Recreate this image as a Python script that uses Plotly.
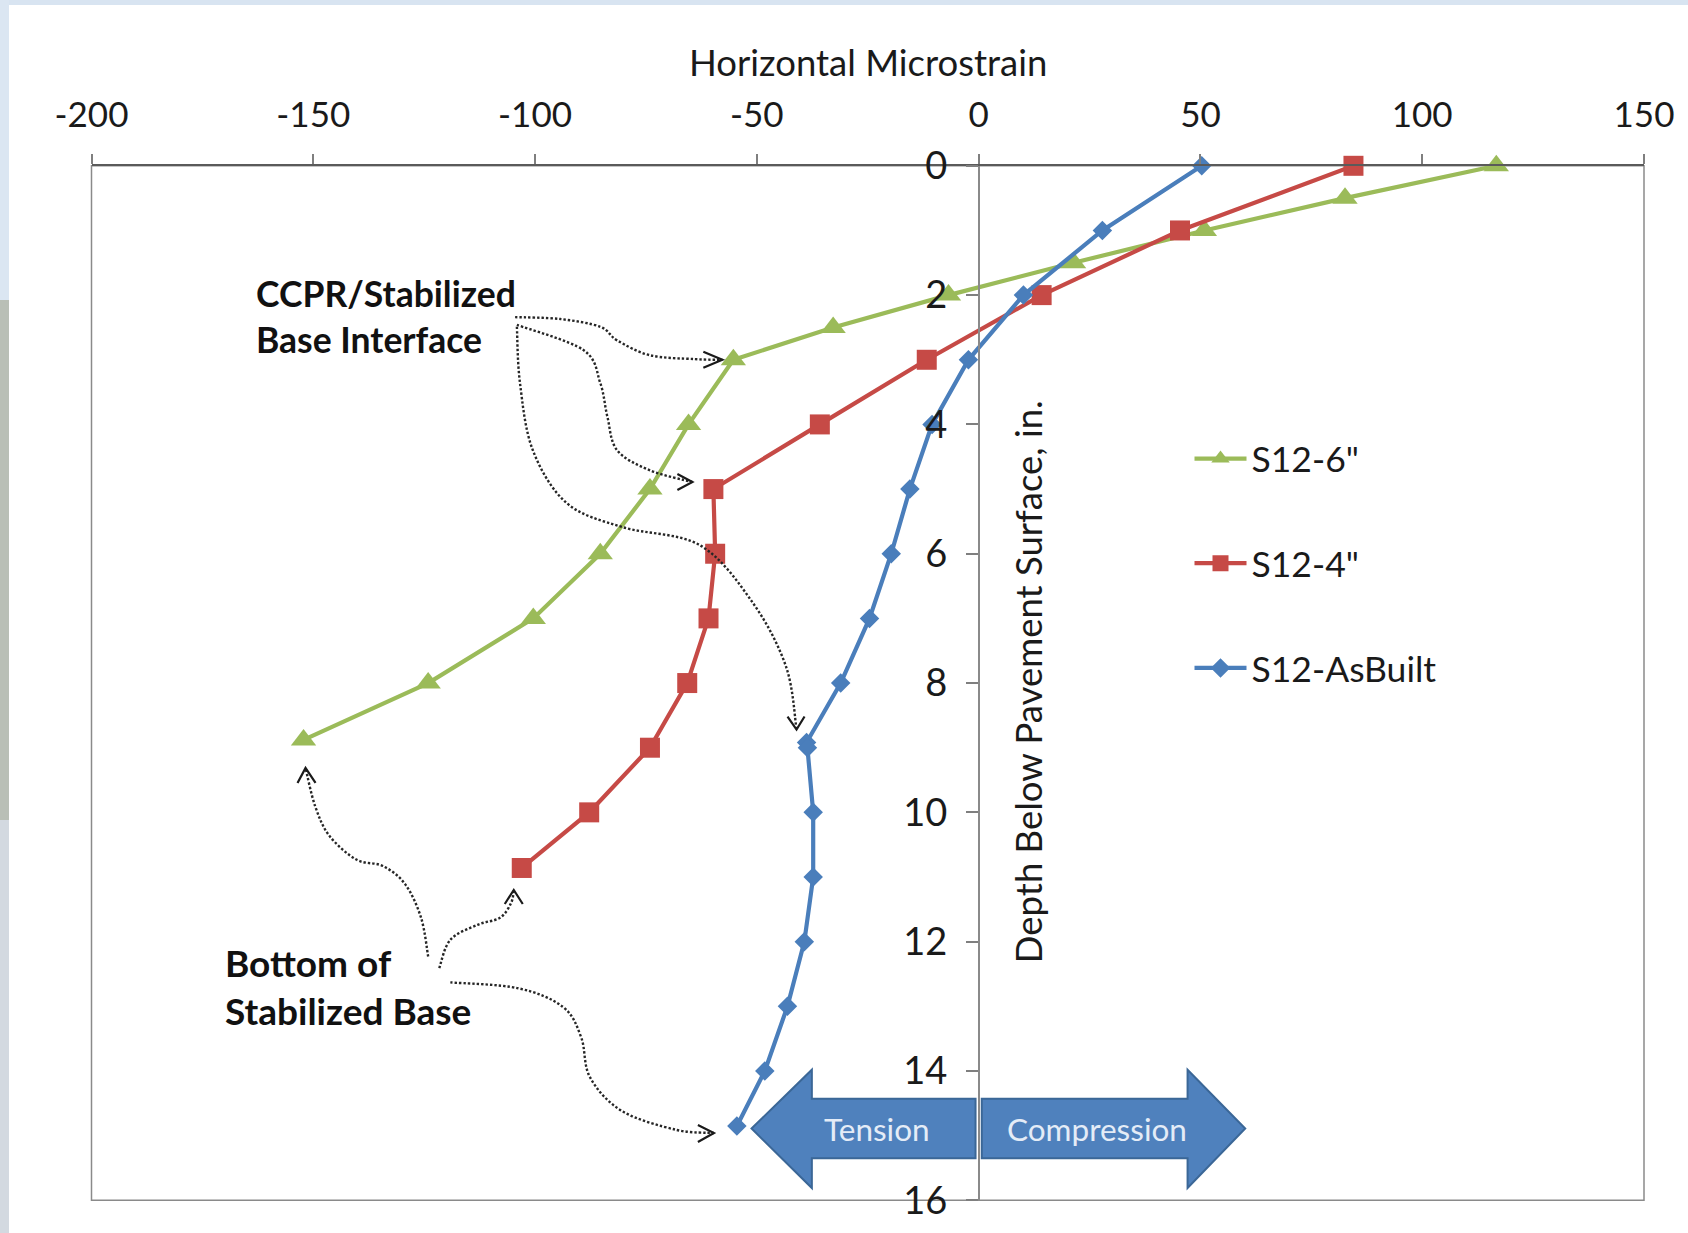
import plotly.graph_objects as go

# ---- strain profiles (horizontal microstrain vs. depth below surface, in.) ----
depth_6in = [0, 0.5, 1.0, 1.5, 2.0, 2.5, 3.0, 4.0, 5.0, 6.0, 7.0, 8.0, 8.88]
strain_6in = [116.7, 82.6, 50.9, 21.4, -6.8, -32.8, -55.3, -65.4, -74.1, -85.3, -100.4, -124.1, -152.2]

depth_4in = [0, 1.0, 2.0, 3.0, 4.0, 5.0, 6.0, 7.0, 8.0, 9.0, 10.0, 10.86]
strain_4in = [84.5, 45.4, 14.2, -11.7, -35.8, -59.8, -59.4, -60.9, -65.7, -74.1, -87.8, -103.0]

depth_asbuilt = [0, 1.0, 2.0, 3.0, 4.0, 5.0, 6.0, 7.0, 8.0, 8.92, 9.0,
                 10.0, 11.0, 12.0, 13.0, 14.0, 14.85]
strain_asbuilt = [50.3, 27.9, 10.1, -2.3, -10.5, -15.5, -19.7, -24.6, -31.1, -38.8, -38.6,
                  -37.3, -37.3, -39.3, -43.1, -48.2, -54.5]

series_names = ['S12-6"', 'S12-4"', 'S12-AsBuilt']
x_ticks = [-200, -150, -100, -50, 0, 50, 100, 150]
x_tick_text = ["-200", "-150", "-100", "-50", "0", "50", "100", "150"]
y_ticks = [0, 2, 4, 6, 8, 10, 12, 14, 16]

X_RANGE = [-200, 150]
Y_RANGE = [16, 0]

GREEN = "#9bbb59"
RED = "#c64a46"
BLUE = "#4a7ebb"
FONT = "Lato"

W, H = 1688, 1233
X0, X1 = 91.5 / W, 1644 / W
Y0, Y1 = 1 - 1200.3 / H, 1 - 165.8 / H
YAX_POS = X0 + (X1 - X0) * (0 - X_RANGE[0]) / (X_RANGE[1] - X_RANGE[0])

PX_X = (X1 - X0) * W / (X_RANGE[1] - X_RANGE[0])   # pixels per microstrain
PX_Y = (Y1 - Y0) * H / (Y_RANGE[0] - Y_RANGE[1])   # pixels per inch of depth


def shift(pt, dx_px, dy_px):
    """Offset a (strain, depth) point by a pixel displacement (y down)."""
    return (pt[0] + dx_px / PX_X, pt[1] + dy_px / PX_Y)


def smooth_path(pts):
    """Catmull-Rom curve through the points, as an SVG path."""
    p = [pts[0]] + list(pts) + [pts[-1]]
    d = "M%.3f,%.4f" % pts[0]
    for i in range(1, len(p) - 2):
        a, b, c, e = p[i - 1], p[i], p[i + 1], p[i + 2]
        c1 = (b[0] + (c[0] - a[0]) / 6, b[1] + (c[1] - a[1]) / 6)
        c2 = (c[0] - (e[0] - b[0]) / 6, c[1] - (e[1] - b[1]) / 6)
        d += " C%.3f,%.4f %.3f,%.4f %.3f,%.4f" % (c1 + c2 + c)
    return d


fig = go.Figure()

fig.add_trace(go.Scatter(
    x=strain_6in, y=depth_6in, name=series_names[0], mode="lines+markers",
    line=dict(color=GREEN, width=4.2),
    marker=dict(symbol="triangle-up", size=22, color=GREEN),
    legendgroup="a", cliponaxis=False))
fig.add_trace(go.Scatter(
    x=strain_4in, y=depth_4in, name=series_names[1], mode="lines+markers",
    line=dict(color=RED, width=4.2),
    marker=dict(symbol="square", size=20, color=RED),
    legendgroup="b", cliponaxis=False))
fig.add_trace(go.Scatter(
    x=strain_asbuilt, y=depth_asbuilt, name=series_names[2], mode="lines+markers",
    line=dict(color=BLUE, width=4.2),
    marker=dict(symbol="diamond", size=15, color=BLUE),
    legendgroup="c", cliponaxis=False))

shapes = []

# page edge strips
shapes.append(dict(type="rect", xref="paper", yref="paper", x0=0, x1=1,
                   y0=1 - 5 / H, y1=1, line=dict(width=0), fillcolor="#d8e4f1", layer="below"))
shapes.append(dict(type="rect", xref="paper", yref="paper", x0=0, x1=9 / W,
                   y0=1 - 300 / H, y1=1, line=dict(width=0), fillcolor="#dbe6f2", layer="below"))
shapes.append(dict(type="rect", xref="paper", yref="paper", x0=0, x1=9 / W,
                   y0=1 - 820 / H, y1=1 - 300 / H, line=dict(width=0), fillcolor="#b9bfb6", layer="below"))
shapes.append(dict(type="rect", xref="paper", yref="paper", x0=0, x1=9 / W,
                   y0=0, y1=1 - 820 / H, line=dict(width=0), fillcolor="#d3d9e0", layer="below"))

# plot frame
shapes.append(dict(type="rect", xref="paper", yref="paper", x0=X0, x1=X1, y0=Y0, y1=Y1,
                   line=dict(color="#8a8a8a", width=1.5), layer="below"))

# Tension / Compression block arrows
tension = [(-51.2, 14.89), (-37.6, 13.98), (-37.6, 14.43), (-0.7, 14.43),
           (-0.7, 15.35), (-37.6, 15.35), (-37.6, 15.81)]
compression = [(0.7, 14.43), (47.1, 14.43), (47.1, 13.98), (60.1, 14.89),
               (47.1, 15.81), (47.1, 15.35), (0.7, 15.35)]
for poly in (tension, compression):
    path = "M" + " L".join("%.2f,%.3f" % p for p in poly) + " Z"
    shapes.append(dict(type="path", xref="x", yref="y", path=path,
                       fillcolor="#4f81bd", line=dict(color="#3b6797", width=2),
                       layer="above"))

# dotted callouts: waypoints in (strain, depth), tip offset from a data point
green_iface = (strain_6in[6], depth_6in[6])
red_iface = (strain_4in[5], depth_4in[5])
blue_iface = (strain_asbuilt[9], depth_asbuilt[9])
green_bot = (strain_6in[-1], depth_6in[-1])
red_bot = (strain_4in[-1], depth_4in[-1])
blue_bot = (strain_asbuilt[-1], depth_asbuilt[-1])

callouts = [
    ([(-104.5, 2.34), (-94.3, 2.37), (-85.3, 2.49), (-81.5, 2.70), (-74.1, 2.93), (-64.0, 2.99)],
     green_iface, (-11, 0), [(-19, -8), (-19, 8)]),
    ([(-104.1, 2.46), (-89.1, 2.85), (-85.3, 3.36), (-83.7, 3.88), (-81.5, 4.40), (-74.1, 4.71)],
     red_iface, (-21, -7), [(-15, -8), (-15, 8)]),
    ([(-104.1, 2.49), (-103.4, 3.36), (-100.5, 4.40), (-92.8, 5.22), (-80.2, 5.59),
      (-62.8, 5.87), (-50.9, 6.76), (-43.4, 7.75)],
     blue_iface, (-10, -13), [(-9, -13), (8, -13)]),
    ([(-124.1, 12.23), (-125.7, 11.63), (-129.3, 11.11), (-134.3, 10.83), (-140.3, 10.73),
      (-146.4, 10.36), (-149.6, 9.90)],
     green_bot, (2, 28), [(-8, 15), (10, 15)]),
    ([(-121.6, 12.41), (-119.1, 11.97), (-113.0, 11.74), (-107.9, 11.63), (-105.4, 11.40)],
     red_bot, (-8, 22), [(-9, 14), (9, 14)]),
    ([(-119.1, 12.63), (-103.8, 12.72), (-93.7, 13.01), (-89.6, 13.48), (-87.6, 14.10),
      (-80.4, 14.62), (-68.2, 14.91)],
     blue_bot, (-23, 7), [(-16, -8), (-16, 9)]),
]
for pts, target, tip_off, arms in callouts:
    tip = shift(target, *tip_off)
    shapes.append(dict(type="path", xref="x", yref="y", path=smooth_path(pts + [tip]),
                       line=dict(color="#262626", width=2.4, dash="2.4px,2px"), layer="above"))
    a1 = shift(tip, *arms[0])
    a2 = shift(tip, *arms[1])
    shapes.append(dict(type="path", xref="x", yref="y",
                       path="M%.3f,%.4f L%.3f,%.4f L%.3f,%.4f" % (a1 + tip + a2),
                       line=dict(color="#1a1a1a", width=2.2), layer="above"))

annotations = [
    dict(text="Horizontal Microstrain", xref="paper", yref="paper",
         x=867.5 / W, y=1 - 62.4 / H, showarrow=False, xanchor="center", yanchor="middle",
         font=dict(family=FONT, size=36.5, color="#1a1a1a")),
    dict(text="Depth Below Pavement Surface, in.", xref="x", yref="y",
         x=11.0, y=7.98, textangle=-90, showarrow=False, xanchor="center", yanchor="middle",
         font=dict(family=FONT, size=36.5, color="#1a1a1a")),
    dict(text="<b>CCPR/Stabilized</b><br><b>Base Interface</b>", xref="x", yref="y",
         x=-163.4, y=2.33, showarrow=False, xanchor="left", yanchor="middle", align="left",
         font=dict(family=FONT, size=35.5, color="#111111")),
    dict(text="<b>Bottom of</b><br><b>Stabilized Base</b>", xref="x", yref="y",
         x=-170.4, y=12.70, showarrow=False, xanchor="left", yanchor="middle", align="left",
         font=dict(family=FONT, size=37, color="#111111")),
    dict(text="Tension", xref="x", yref="y", x=-23.0, y=14.89, showarrow=False,
         font=dict(family=FONT, size=31.5, color="#e4ecf7")),
    dict(text="Compression", xref="x", yref="y", x=26.7, y=14.89, showarrow=False,
         font=dict(family=FONT, size=31.5, color="#e4ecf7")),
]

fig.update_layout(
    width=W, height=H,
    margin=dict(l=0, r=0, t=0, b=0, pad=0, autoexpand=False),
    paper_bgcolor="white", plot_bgcolor="white",
    font=dict(family=FONT, color="#1a1a1a"),
    showlegend=True,
    legend=dict(x=1189.5 / W, y=1 - 429 / H, xanchor="left", yanchor="top",
                font=dict(family=FONT, size=35.5, color="#1a1a1a"),
                bgcolor="rgba(0,0,0,0)", borderwidth=0,
                tracegroupgap=55.5, itemwidth=52, traceorder="grouped"),
    xaxis=dict(domain=[X0, X1], range=X_RANGE, side="top", anchor="y", automargin=False,
               tickmode="array", tickvals=x_ticks, ticktext=x_tick_text,
               ticks="outside", ticklen=10, tickwidth=1.5, tickcolor="#7f7f7f",
               showline=True, linecolor="#5a5a5a", linewidth=1.5,
               showgrid=False, zeroline=False, ticklabelstandoff=13,
               tickfont=dict(family=FONT, size=35, color="#1a1a1a")),
    yaxis=dict(domain=[Y0, Y1], range=Y_RANGE, anchor="free", position=YAX_POS,
               automargin=False,
               tickmode="array", tickvals=y_ticks, ticks="outside", ticklen=12,
               tickwidth=1.5, tickcolor="#7f7f7f",
               showline=True, linecolor="#8a8a8a", linewidth=1.5,
               showgrid=False, zeroline=False, ticklabelstandoff=11,
               tickfont=dict(family=FONT, size=38, color="#1a1a1a")),
    shapes=shapes,
    annotations=annotations,
)

fig.write_html("out.html")
